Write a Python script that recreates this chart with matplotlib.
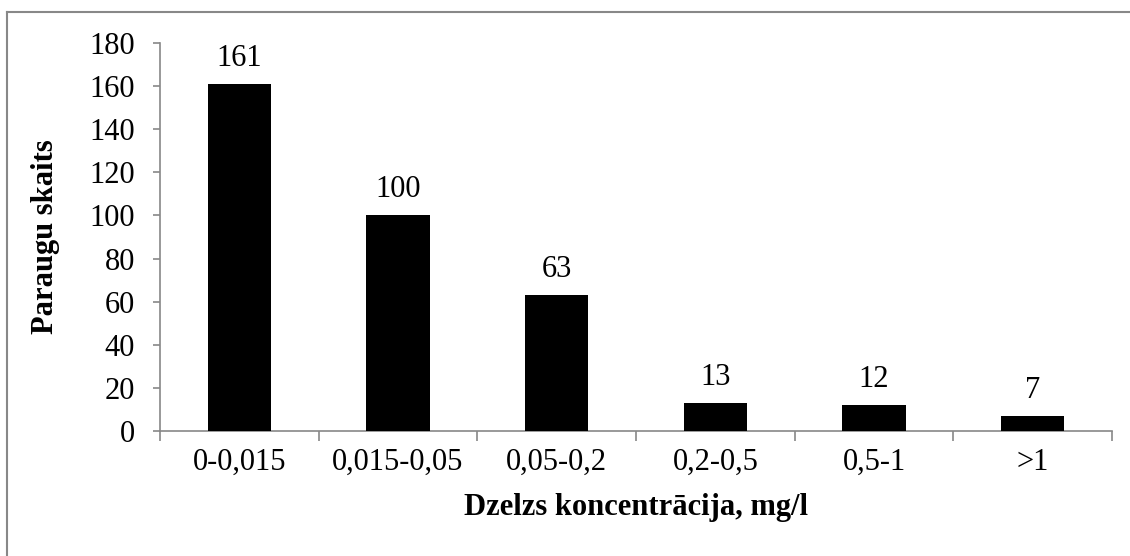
import matplotlib.pyplot as plt
from matplotlib.lines import Line2D

plt.rcParams['font.family'] = ['Liberation Serif', 'DejaVu Serif']

categories = ['0-0,015', '0,015-0,05', '0,05-0,2', '0,2-0,5', '0,5-1', '>1']
counts = [161, 100, 63, 13, 12, 7]
yticks = [0, 20, 40, 60, 80, 100, 120, 140, 160, 180]

FS = 22

fig = plt.figure(figsize=(11.3, 5.56), dpi=100)
ax = fig.add_axes([160 / 1130, 125 / 556, 952 / 1130, 388 / 556])

x = range(len(categories))
bars = ax.bar(x, counts, width=0.4, color='black', zorder=3)
for xi, v in zip(x, counts):
    ax.annotate(str(v), (xi, v), xytext=(0, 8), textcoords='offset points',
                ha='center', va='bottom', fontsize=FS)

ax.set_xlim(-0.5, len(categories) - 0.5)
ax.set_ylim(0, 180)
ax.set_yticks(yticks)
ax.tick_params(axis='y', direction='out', length=5, width=1.2, color='#888888',
               labelsize=FS, pad=13)

# category labels centred, tick marks between categories
ax.set_xticks(list(x))
ax.set_xticklabels(categories)
ax.tick_params(axis='x', which='major', length=0, labelsize=FS, pad=12)
ax.set_xticks([i - 0.5 for i in range(len(categories) + 1)], minor=True)
ax.tick_params(axis='x', which='minor', direction='out', length=7, width=1.2,
               color='#888888')

for s in ['top', 'right']:
    ax.spines[s].set_visible(False)
for s in ['left', 'bottom']:
    ax.spines[s].set_color('#888888')
    ax.spines[s].set_linewidth(1.2)

ax.set_ylabel('Paraugu skaits', fontsize=FS, fontweight='bold', labelpad=21)
ax.set_xlabel('Dzelzs koncentrācija, mg/l', fontsize=FS, fontweight='bold', labelpad=12)

# chart frame (top and left edges)
fig.add_artist(Line2D([7 / 1130, 1.0], [1 - 12 / 556, 1 - 12 / 556],
                      transform=fig.transFigure, color='#888888', lw=1.5))
fig.add_artist(Line2D([7 / 1130, 7 / 1130], [0.0, 1 - 12 / 556],
                      transform=fig.transFigure, color='#888888', lw=1.5))

fig.savefig('out.png', dpi=100)
